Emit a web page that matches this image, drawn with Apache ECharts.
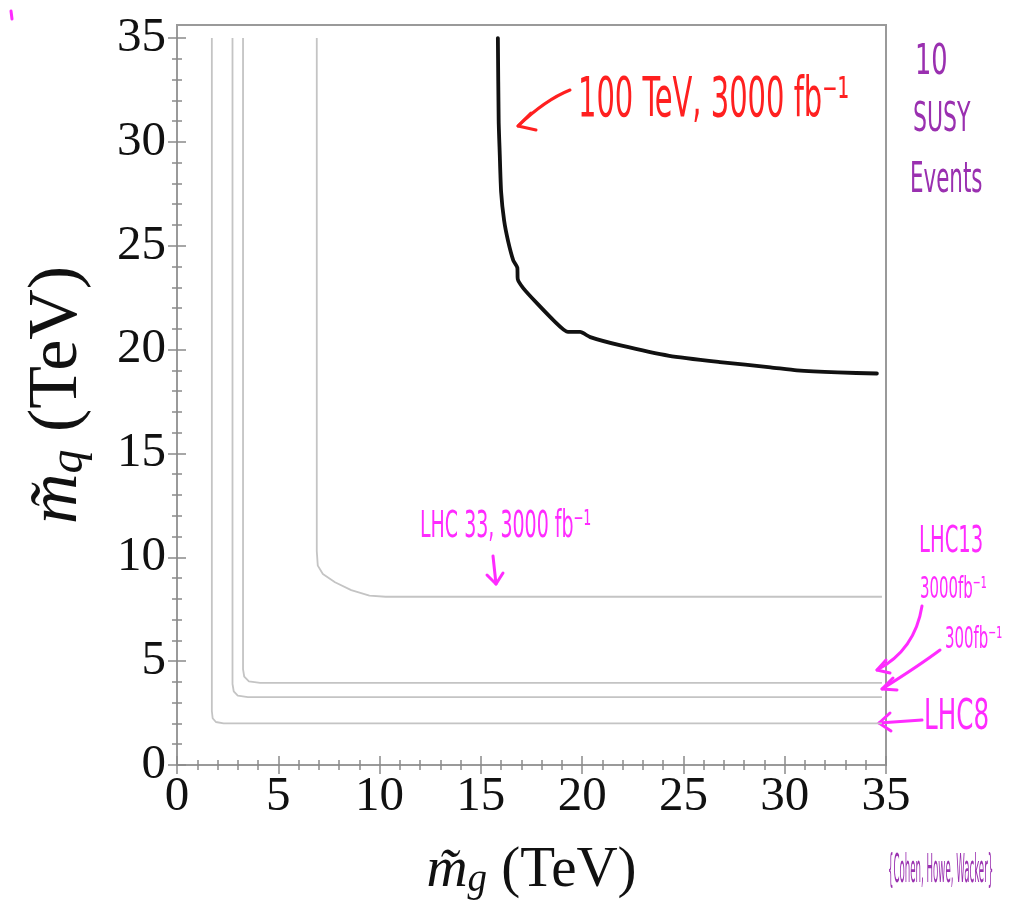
<!DOCTYPE html>
<html>
<head>
<meta charset="utf-8">
<script src="https://cdn.jsdelivr.net/npm/echarts@6/dist/echarts.min.js"></script>
<style>
  html, body { margin: 0; padding: 0; background: #fff; }
  #chart { width: 1028px; height: 913px; }
</style>
</head>
<body>
<div id="chart"></div>
<script>
// Tick positions (TeV)
const majorTicks = [0, 5, 10, 15, 20, 25, 30, 35];
const minorTicks = [];
for (let v = 0; v <= 35; v++) minorTicks.push(v);

// Reach contours: [gluino mass, squark mass] in TeV
const lhc8 = [[1.72, 35], [1.72, 2.6], [1.76, 2.25], [1.92, 2.07], [2.3, 2.0], [34.8, 2.0]];
const lhc13_300 = [[2.74, 35], [2.74, 3.9], [2.8, 3.55], [3.0, 3.34], [3.5, 3.27], [34.8, 3.27]];
const lhc13_3000 = [[3.26, 35], [3.26, 4.6], [3.32, 4.25], [3.55, 4.03], [4.1, 3.95], [34.8, 3.95]];
const lhc33_3000 = [[6.9, 35], [6.9, 10.3], [6.95, 9.6], [7.2, 9.2], [7.8, 8.8], [8.6, 8.42], [9.5, 8.16], [10.3, 8.1], [34.8, 8.1]];
const fcc100_3000 = [
  [15.84, 35.0], [15.88, 31.0], [15.93, 29.5], [16.0, 27.6], [16.15, 26.2], [16.35, 25.2], [16.6, 24.3],
  [16.8, 23.95], [16.82, 23.4], [17.1, 22.95], [17.8, 22.2], [18.6, 21.4], [19.3, 20.85], [19.9, 20.85],
  [20.4, 20.6], [21.9, 20.2], [24.3, 19.7], [26.8, 19.4], [29.3, 19.15], [30.6, 19.0],
  [32.6, 18.9], [34.55, 18.85]
];

const Y_MAX = 35.63;
const serif = "'Liberation Serif', 'DejaVu Serif', serif";
const hand = "'Liberation Sans Narrow', 'DejaVu Sans Condensed', 'Liberation Sans', sans-serif";
const frameColor = '#9a9a9a';

function axis(kind, pos, ticks, len, withLabel, extra) {
  const isX = kind === 'x';
  return Object.assign({
    type: 'value',
    position: pos,
    min: 0,
    max: isX ? 35 : Y_MAX,
    gridIndex: 0,
    splitLine: { show: false },
    axisLine: { show: withLabel, lineStyle: { color: frameColor, width: 2 } },
    axisTick: { show: true, inside: true, length: len, customValues: ticks,
                lineStyle: { color: '#8a8a8a', width: 1.5 } },
    axisLabel: withLabel
      ? { show: true, customValues: majorTicks, fontFamily: serif, fontSize: 49, color: '#111', margin: isX ? 8 : 11 }
      : { show: false }
  }, extra || {});
}

function nameRich(size) {
  return {
    m: { fontFamily: serif, fontSize: size, fontStyle: 'italic', color: '#111', lineHeight: size },
    s: { fontFamily: serif, fontSize: Math.round(size * 0.68), fontStyle: 'italic', color: '#111',
         lineHeight: Math.round(size * 0.6), verticalAlign: 'bottom' },
    t: { fontFamily: serif, fontSize: size, color: '#111', lineHeight: size }
  };
}

const magenta = '#ff2bff';
const red = '#ff2020';
const purple = '#9a30b0';

function note(text, x, y, size, color, sx, sy) {
  return { type: 'text', x: x, y: y, scaleX: sx || 1, scaleY: sy || 1, silent: true,
    style: { text: text, font: size + 'px ' + hand, fill: color, textVerticalAlign: 'middle', textAlign: 'left' } };
}
function stroke(points, color) {
  return { type: 'polyline', silent: true, shape: { points: points },
    style: { stroke: color, lineWidth: 3, fill: null, lineCap: 'round', lineJoin: 'round' } };
}
function curve(x1, y1, cx, cy, x2, y2, color) {
  return { type: 'bezierCurve', silent: true, shape: { x1: x1, y1: y1, cpx1: cx, cpy1: cy, x2: x2, y2: y2 },
    style: { stroke: color, lineWidth: 3, fill: null, lineCap: 'round' } };
}

const chart = echarts.init(document.getElementById('chart'), null, { renderer: 'canvas' });

const grayLine = (data) => ({
  type: 'line', data: data, showSymbol: false, silent: true, animation: false,
  xAxisIndex: 0, yAxisIndex: 0,
  lineStyle: { color: '#c4c4c4', width: 1.8 }
});

chart.setOption({
  animation: false,
  backgroundColor: '#ffffff',
  grid: { left: 177, top: 25, right: 142, bottom: 148, show: true, borderColor: frameColor, borderWidth: 2, backgroundColor: '#fff' },
  xAxis: [
    axis('x', 'bottom', majorTicks, 9, true, {
      name: '{m|m\u0303}{s|g}{t| (TeV)}', nameLocation: 'middle', nameGap: 78,
      nameTextStyle: { rich: nameRich(57) }
    }),
    axis('x', 'bottom', minorTicks, 5, false),
    axis('x', 'top', majorTicks, 9, false),
    axis('x', 'top', minorTicks, 5, false)
  ],
  yAxis: [
    axis('y', 'left', majorTicks, 9, true, {
      name: '{m|m\u0303}{s|q}{t| (TeV)}', nameLocation: 'middle', nameGap: 84, nameRotate: 90,
      nameTextStyle: { rich: nameRich(70) }
    }),
    axis('y', 'left', minorTicks, 5, false),
    axis('y', 'right', majorTicks, 9, false),
    axis('y', 'right', minorTicks, 5, false)
  ],
  series: [
    grayLine(lhc8),
    grayLine(lhc13_300),
    grayLine(lhc13_3000),
    grayLine(lhc33_3000),
    {
      type: 'line', data: fcc100_3000, showSymbol: false, silent: true, animation: false,
      smooth: 0.2,
      xAxisIndex: 0, yAxisIndex: 0,
      lineStyle: { color: '#111', width: 3.8, join: 'round', cap: 'round' }
    }
  ],
  graphic: [
    // stray pen mark
    stroke([[11, 11], [12, 19]], magenta),
    // 100 TeV note
    note('100 TeV, 3000 fb\u207B\u00B9', 578, 102, 46, red, 0.7, 1.2),
    curve(570, 90, 545, 100, 518, 126, red),
    stroke([[531, 113], [518, 126], [536, 130]], red),
    // 10 SUSY events
    note('10', 915, 63, 38, purple, 0.75, 1.1),
    note('SUSY', 913, 120, 34, purple, 0.72, 1.2),
    note('Events', 910, 181, 34, purple, 0.7, 1.25),
    // LHC33 note
    note('LHC 33, 3000 fb\u207B\u00B9', 420, 527, 32, magenta, 0.66, 1.15),
    stroke([[493, 556], [496, 584]], magenta),
    stroke([[487, 575], [496, 584], [503, 573]], magenta),
    // LHC13 / LHC8 notes
    note('LHC13', 919, 542, 32, magenta, 0.68, 1.15),
    note('3000fb\u207B\u00B9', 920, 590, 26, magenta, 0.64, 1.15),
    note('300fb\u207B\u00B9', 945, 640, 26, magenta, 0.64, 1.15),
    note('LHC8', 924, 718, 38, magenta, 0.72, 1.1),
    curve(922, 606, 915, 650, 877, 670, magenta),
    stroke([[886, 660], [877, 670], [890, 673]], magenta),
    curve(940, 650, 920, 665, 882, 689, magenta),
    stroke([[893, 678], [882, 689], [897, 690]], magenta),
    stroke([[922, 720], [879, 723]], magenta),
    stroke([[890, 713], [879, 723], [891, 731]], magenta),
    // attribution
    note('{Cohen, Howe, Wacker}', 888, 872, 24, purple, 0.4, 1.6)
  ]
});
</script>
</body>
</html>
